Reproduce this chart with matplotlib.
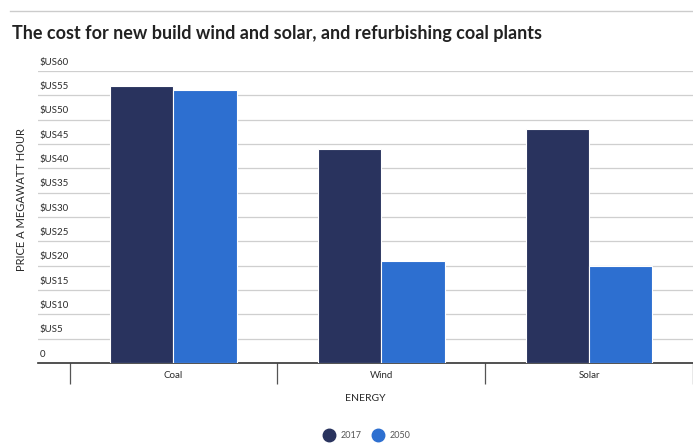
import numpy as np
import matplotlib.pyplot as plt
import matplotlib.transforms as mtrans
from matplotlib.lines import Line2D

plt.rcParams['font.family'] = ['Lato', 'DejaVu Sans']

categories = ['Coal', 'Wind', 'Solar']
cost_2017 = [57, 44, 48]
cost_2050 = [56, 21, 20]
y_ticks = [0, 5, 10, 15, 20, 25, 30, 35, 40, 45, 50, 55, 60]
y_tick_labels = ['0'] + ['$US%d' % v for v in y_ticks[1:]]

c2017 = '#29335e'
c2050 = '#2d6fd0'

W, H = 693, 443
fig = plt.figure(figsize=(W / 100, H / 100), dpi=100)
ax = fig.add_axes([38 / W, (H - 363) / H, (W - 38) / W, (363 - 71) / H])

x = np.arange(len(categories))
bw = 0.305
ax.bar(x - bw / 2, cost_2017, bw, color=c2017, edgecolor='white', linewidth=0.8, zorder=3)
ax.bar(x + bw / 2, cost_2050, bw, color=c2050, edgecolor='white', linewidth=0.8, zorder=3)

ax.set_xlim(-0.652, 2.452)
ax.set_ylim(0, 60)

# gridlines + labels sitting on top of them
for v in y_ticks[1:]:
    ax.axhline(v, color='#cfcfcf', lw=0.9, zorder=1)
trans = mtrans.blended_transform_factory(ax.transAxes, ax.transData)
for v, lab in zip(y_ticks, y_tick_labels):
    ax.text(0.003, v + 0.9, lab, transform=trans, fontsize=7, color='#2a2a2a',
            ha='left', va='bottom')
ax.set_yticks([])

for s in ['top', 'right', 'left']:
    ax.spines[s].set_visible(False)
ax.spines['bottom'].set_color('#333333')
ax.spines['bottom'].set_linewidth(1.2)

ax.set_xticks(x)
ax.set_xticklabels(categories, fontsize=7, color='#2a2a2a')
ax.tick_params(axis='x', which='major', length=0, pad=6)
ax.set_xticks(np.arange(-0.5, len(categories), 1), minor=True)
ax.tick_params(axis='x', which='minor', length=15, width=0.9, color='#555555')

ax.set_xlabel('ENERGY', fontsize=7.5, color='#2a2a2a', labelpad=4)
fig.text(22 / W, 1 - 200 / H, 'PRICE A MEGAWATT HOUR', rotation=90, fontsize=8,
         color='#2a2a2a', ha='center', va='center')

fig.text(12 / W, 1 - 33 / H, 'The cost for new build wind and solar, and refurbishing coal plants',
         fontsize=13, fontweight='bold', color='#222222', ha='left', va='center')
fig.add_artist(Line2D([10 / W, 1], [1 - 11 / H, 1 - 11 / H], color='#cccccc', lw=1))

handles = [Line2D([], [], marker='o', ls='', color=c2017, markersize=9),
           Line2D([], [], marker='o', ls='', color=c2050, markersize=9)]
fig.legend(handles, ['2017', '2050'], loc='center', bbox_to_anchor=(365 / W, 1 - 436 / H),
           ncol=2, frameon=False, fontsize=6.5, handletextpad=0.3, columnspacing=0.8,
           labelcolor='#555555')

fig.savefig('out.png', dpi=100)
